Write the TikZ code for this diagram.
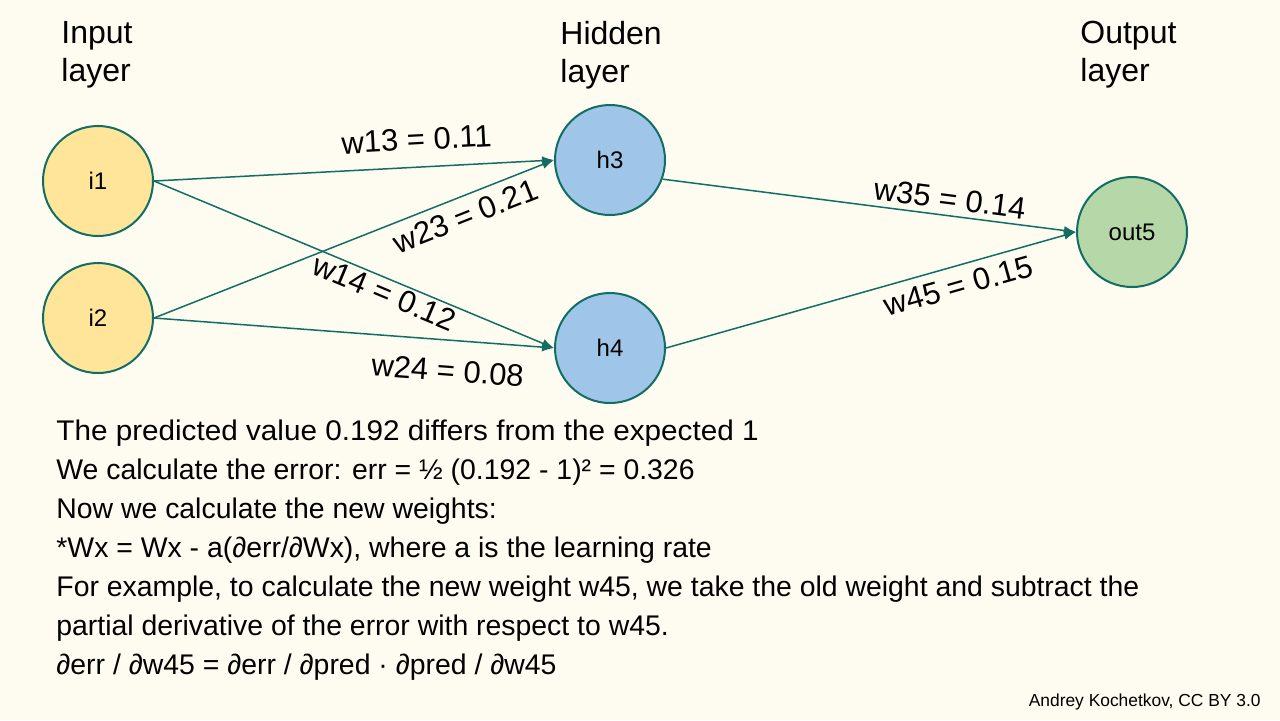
\documentclass[tikz,border=0pt]{standalone}
\usepackage{fontspec}
\setmainfont{Liberation Sans}
\usetikzlibrary{arrows.meta, positioning}

\definecolor{bgCream}{RGB}{254,251,240}
\definecolor{inYellow}{RGB}{255,229,153}
\definecolor{hidBlue}{RGB}{159,197,232}
\definecolor{outGreen}{RGB}{182,215,168}
\definecolor{edgeTeal}{RGB}{18,110,98}

\begin{document}
\begin{tikzpicture}[
        x=0.5pt, y=-0.5pt,
        neuron/.style={
            circle, draw=edgeTeal, line width=1pt, minimum size=55pt,
            inner sep=0pt, font=\fontsize{12}{14}\selectfont
        },
        inNeuron/.style={neuron, fill=inYellow},
        hidNeuron/.style={neuron, fill=hidBlue},
        outNeuron/.style={neuron, fill=outGreen},
        layerTitle/.style={
            anchor=north west, align=left, inner sep=0pt,
            font=\fontsize{16}{19}\selectfont
        },
        wLabel/.style={
            sloped, inner sep=0pt, font=\fontsize{15.5}{18}\selectfont
        },
        arrow/.style={
            draw=edgeTeal, line width=0.75pt,
            -{Latex[length=6pt, width=4.5pt]}
        }
    ]
        % Background
        \fill[bgCream] (0,0) rectangle (1280,720);
        \useasboundingbox (0,0) rectangle (1280,720);

        % Titles
        \node (tIn) [layerTitle] at (61,21) {Input\\layer};
        \node (tHid) [layerTitle] at (560,21) {Hidden\\layer};
        \node (tOut) [layerTitle] at (1080,21) {Output\\layer};

        % Nodes
        \node (i1) [inNeuron] at (98,181) {i1};
        \node (i2) [inNeuron] at (98,318) {i2};
        \node (h3) [hidNeuron] at (610,160) {h3};
        \node (h4) [hidNeuron] at (610,348) {h4};
        \node (out5) [outNeuron] at (1132,232) {out5};

        % Arrows
        \draw [arrow] (i1.east) -- node[wLabel, pos=0.66, above=8pt] {w13 = 0.11} (h3.west);
        \draw [arrow] (i2.east) -- node[wLabel, pos=0.76, below=4pt] {w23 = 0.21} (h3.west);
        \draw [arrow] (i1.east) -- node[wLabel, pos=0.59, below=1.2pt] {w14 = 0.12} (h4.west);
        \draw [arrow] (i2.east) -- node[wLabel, pos=0.74, below=9.5pt] {w24 = 0.08} (h4.west);
        \draw [arrow] (h3.-20) -- node[wLabel, pos=0.69, above=2.5pt] {w35 = 0.14} (out5.west);
        \draw [arrow] (h4.east) -- node[wLabel, pos=0.70, below=4pt] {w45 = 0.15} (out5.west);

        % Explanation
        \node (notes) [anchor=north west, align=left, inner sep=0pt,
            font=\fontsize{14.2}{19.5}\selectfont] at (56,420) {%
            \scalebox{1.045}[1]{The predicted value 0.192 differs from the expected 1}\\
            We calculate the error: err = ½ (0.192 - 1)² = 0.326\\
            Now we calculate the new weights:\\
            *Wx = Wx - a(∂err/∂Wx), where a is the learning rate\\
            For example, to calculate the new weight w45, we take the old weight and subtract the\\
            partial derivative of the error with respect to w45.\\
            ∂err / ∂w45 = ∂err / ∂pred · ∂pred / ∂w45};
        \node (credit) [anchor=base east, inner sep=0pt,
            font=\fontsize{8.7}{10}\selectfont] at (1261,706) {Andrey Kochetkov, CC BY 3.0};
    \end{tikzpicture}
\end{document}
